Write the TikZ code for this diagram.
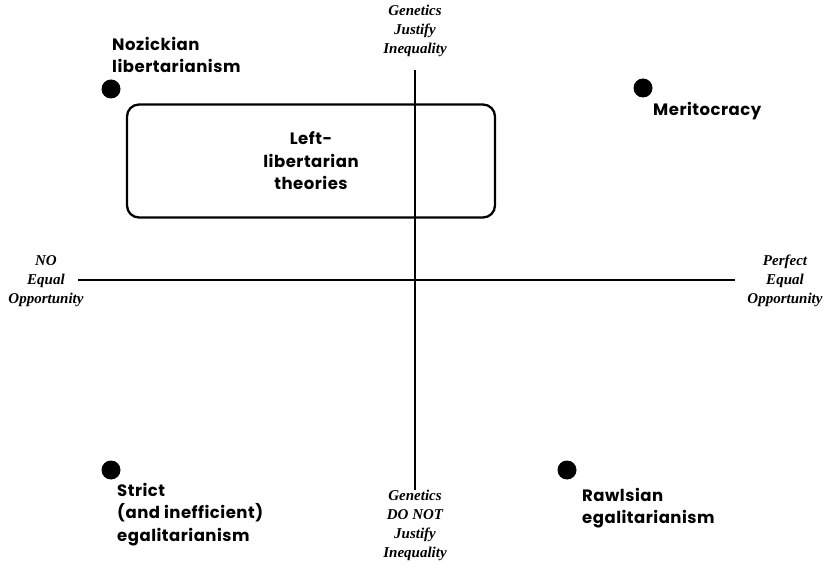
\documentclass[tikz,border=0pt]{standalone}
\usepackage{fontspec}
\newfontfamily\labfont[LetterSpace=3]{Poppins}
\newfontfamily\axfont{Liberation Serif}
\begin{document}
\begin{tikzpicture}[x=1pt,y=-1pt,
  lab/.style={font=\labfont\bfseries\fontsize{16.5}{22.5}\selectfont, align=left, inner sep=0pt},
  axlab/.style={font=\axfont\bfseries\itshape\fontsize{15}{19}\selectfont, align=center, inner sep=0pt},
  dot/.style={circle, fill=black, minimum size=19pt, inner sep=0pt},
  axis/.style={line width=2pt},
  boxstyle/.style={draw, line width=2.3pt, rounded corners=12pt, minimum width=368pt, minimum height=113pt, inner sep=0pt,
     font=\labfont\bfseries\fontsize{16.5}{22.5}\selectfont, align=center}]
\useasboundingbox (0,0) rectangle (828,569);
% axis labels
\node[axlab, anchor=north] (top) at (415,5) {Genetics\\Justify\\Inequality};
\node[axlab, anchor=north] (bot) at (415,490) {Genetics\\DO NOT\\Justify\\Inequality};
\node[axlab, anchor=center] (left) at (46,281) {NO\\Equal\\Opportunity};
\node[axlab, anchor=center] (right) at (785,281) {Perfect\\Equal\\Opportunity};
% axis endpoints
\coordinate (vt) at (415,70);
\coordinate (vb) at (415,490);
\coordinate (hl) at (78,280);
\coordinate (hr) at (735,280);
\draw[axis] (vt) -- (vb);
\draw[axis] (hl) -- (hr);
% box
\node[boxstyle] (box) at (311,161) {Left-\\libertarian\\theories};
% dots
\node[dot] (d1) at (111,89) {};
\node[dot] (d2) at (643,88) {};
\node[dot] (d3) at (111,470) {};
\node[dot] (d4) at (567,470) {};
% labels
\node[lab, anchor=north west] (noz) at (112,37) {Nozickian\\libertarianism};
\node[lab, anchor=north west] (mer) at (653,102) {Meritocracy};
\node[lab, anchor=north west] (str) at (117,483) {Strict\\(and inefficient)\\egalitarianism};
\node[lab, anchor=north west] (raw) at (582,488) {Rawlsian\\egalitarianism};
\end{tikzpicture}
\end{document}
